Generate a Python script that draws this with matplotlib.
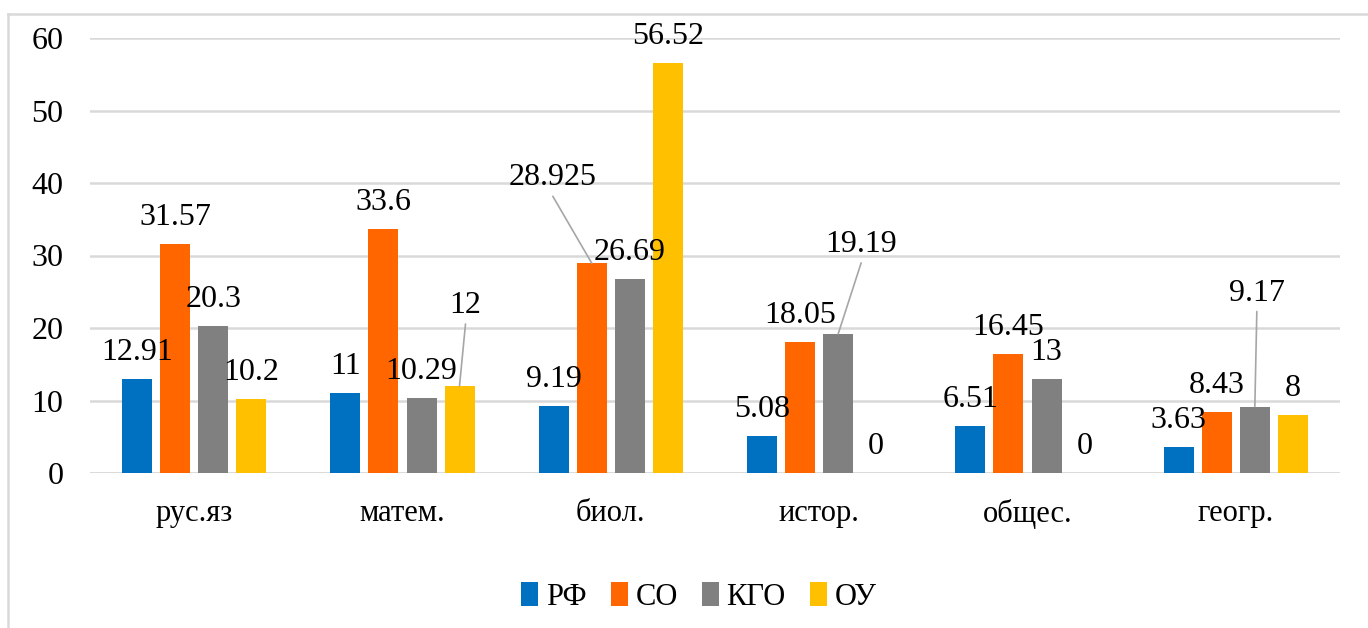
import matplotlib
matplotlib.use("Agg")
import matplotlib.pyplot as plt
from matplotlib.lines import Line2D
import numpy as np

# ---- data ----
categories = ["рус.яз", "матем.", "биол.", "истор.", "общес.", "геогр."]
series_names = ["РФ", "СО", "КГО", "ОУ"]
rf = [12.91, 11, 9.19, 5.08, 6.51, 3.63]
so = [31.57, 33.6, 28.925, 18.05, 16.45, 8.43]
kgo = [20.3, 10.29, 26.69, 19.19, 13, 9.17]
ou = [10.2, 12, 56.52, 0, 0, 8]
yticks = [0, 10, 20, 30, 40, 50, 60]

# ---- style ----
colors = ["#0070C0", "#FF6600", "#808080", "#FFC000"]
plt.rcParams['font.family'] = ['Liberation Serif', 'DejaVu Serif']

fig = plt.figure(figsize=(13.68, 6.28), dpi=100)
ax = fig.add_axes([90/1368, 1-473/628, 1250/1368, 435/628])

series = [rf, so, kgo, ou]
x = np.arange(len(categories))
step = 38/208.33
width = 30/208.33

# label offsets (dx, dy) in pixels from bar top-center to label center, for leader labels
leader = {(1, 3): (6, -84), (2, 1): (-39, -89), (3, 2): (23, -93), (5, 2): (2, -117)}

for si, (vals, col) in enumerate(zip(series, colors)):
    pos = x + (si - 1.5) * step
    ax.bar(pos, vals, width=width, color=col, label=series_names[si], zorder=3)
    for ci, (px, v) in enumerate(zip(pos, vals)):
        txt = f"{v:g}"
        if (ci, si) in leader:
            dx, dy = leader[(ci, si)]
            ax.annotate(txt, xy=(px, v), xytext=(dx, -dy - 11),
                        textcoords='offset pixels', ha='center', va='baseline',
                        fontsize=23, zorder=5)
            ax.annotate("", xy=(px, v), xytext=(dx, -dy - 22),
                        textcoords='offset pixels',
                        arrowprops=dict(arrowstyle='-', color='#a6a6a6', lw=1.2,
                                        shrinkA=0, shrinkB=0), zorder=4)
        else:
            ax.annotate(txt, xy=(px, v), xytext=(0, 19),
                        textcoords='offset pixels', ha='center', va='baseline',
                        fontsize=23, zorder=5)

ax.set_xlim(-0.5, len(categories) - 0.5)
ax.set_ylim(0, 60)
ax.set_yticks(yticks)
ax.set_xticks(x)
ax.set_xticklabels(categories, fontsize=22)
ax.tick_params(axis='y', length=0, labelsize=23, pad=19)
ax.tick_params(axis='x', length=0, pad=19)
ax.grid(axis='y', color='#d9d9d9', lw=1.8, zorder=0)
for s in ax.spines.values():
    s.set_visible(False)
ax.axhline(0, color='#d9d9d9', lw=1.8, zorder=2)

leg = fig.legend(loc='center', bbox_to_anchor=(699/1368, 1-597/628), ncol=4,
                 frameon=False, fontsize=22, handlelength=0.55, handleheight=0.8,
                 handletextpad=0.25, columnspacing=0.8)

# chart area border (left and top)
fig.add_artist(Line2D([8/1368, 8/1368], [0, 1-14/628], transform=fig.transFigure,
                      color='#d9d9d9', lw=1.8))
fig.add_artist(Line2D([8/1368, 1], [1-14/628, 1-14/628], transform=fig.transFigure,
                      color='#d9d9d9', lw=1.8))

fig.savefig("out.png", dpi=100)
